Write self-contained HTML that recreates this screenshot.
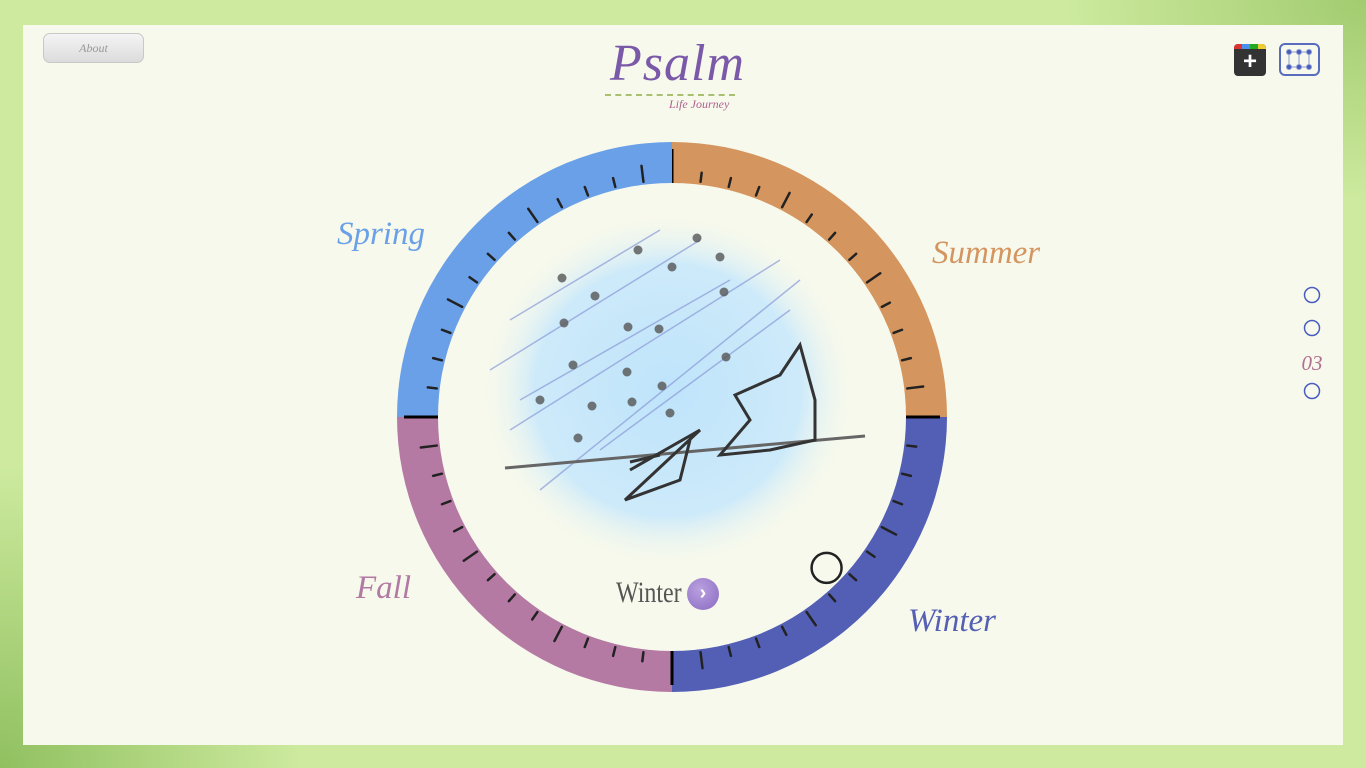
<!DOCTYPE html>
<html><head><meta charset="utf-8"><style>
html,body{margin:0;padding:0;width:1366px;height:768px;overflow:hidden}
body{background:radial-gradient(ellipse 300px 200px at 1366px 0,#a2cc70,transparent),radial-gradient(ellipse 300px 300px at 0 768px,#90c060,transparent),#cdea9e;font-family:"Liberation Sans",sans-serif}
#panel{position:absolute;left:23px;top:25px;width:1320px;height:720px;background:#f7f9ec}
.lbl{position:absolute;font-family:"Liberation Serif",serif;font-style:italic;font-size:33px}
</style></head><body>
<div id="panel"></div>
<div style="position:absolute;left:43px;top:33px;width:99px;height:28px;border:1px solid #c8c8c8;border-radius:7px;background:linear-gradient(#f4f4f4,#dcdcdc);color:#999;font-size:12px;text-align:center;line-height:28px;font-family:'Liberation Serif',serif;font-style:italic">About</div>
<div style="position:absolute;left:610px;top:34px;font-family:'Liberation Serif',serif;font-style:italic;font-size:52px;color:#7a5aa8;letter-spacing:1px">Psalm</div>
<div style="position:absolute;left:605px;top:94px;width:130px;border-top:2px dashed #a8c070"></div>
<div style="position:absolute;left:669px;top:97px;font-family:'Liberation Serif',serif;font-style:italic;font-size:12px;color:#b06090">Life Journey</div>
<div style="position:absolute;left:1234px;top:44px;width:32px;height:32px;border-radius:4px;overflow:hidden;background:#333">
<div style="height:5px;background:linear-gradient(90deg,#d33 25%,#4a8ef0 25% 50%,#2a2 50% 75%,#ec3 75%)"></div>
<div style="color:#fff;font-size:24px;font-weight:bold;text-align:center;line-height:26px">+</div></div>
<div style="position:absolute;left:1279px;top:43px;width:41px;height:33px;border:2px solid #5a6cc0;border-radius:6px;box-sizing:border-box">
<svg width="37" height="29" style="position:absolute;left:0;top:0"><g stroke="#8a98d8" stroke-width="1" fill="#4a5cb8"><rect x="8" y="7" width="20" height="15" fill="none"/><line x1="18" y1="7" x2="18" y2="22"/><circle cx="8" cy="7" r="2.5"/><circle cx="18" cy="7" r="2.5"/><circle cx="28" cy="7" r="2.5"/><circle cx="8" cy="22" r="2.5"/><circle cx="18" cy="22" r="2.5"/><circle cx="28" cy="22" r="2.5"/></g></svg></div>
<svg width="30" height="120" style="position:absolute;left:1297px;top:284px">
<g fill="none" stroke="#4a5cc0" stroke-width="1.5"><circle cx="15" cy="11" r="7.5"/><circle cx="15" cy="44" r="7.5"/><circle cx="15" cy="107" r="7.5"/></g>
<text x="15" y="86" text-anchor="middle" font-family="Liberation Serif" font-style="italic" font-size="21" fill="#b07090">03</text></svg>
<svg id="chart" width="1366" height="768" style="position:absolute;left:0;top:0"></svg>
<div class="lbl" style="left:337px;top:216px;color:#6aa0e8">Spring</div>
<div class="lbl" style="left:932px;top:235px;color:#d49560">Summer</div>
<div class="lbl" style="left:356px;top:570px;color:#b27aa3">Fall</div>
<div class="lbl" style="left:908px;top:603px;color:#5560b5">Winter</div>
<div style="position:absolute;left:616px;top:576px;font-family:'Liberation Serif',serif;font-size:30px;color:#555;transform:scaleX(0.8);transform-origin:left">Winter</div>
<div style="position:absolute;left:687px;top:578px;width:32px;height:32px;border-radius:50%;background:radial-gradient(circle at 40% 35%,#b9a0e0,#8a6ac0);color:#fff;font-weight:bold;font-size:20px;text-align:center;line-height:31px">›</div>
<script>
const seasons=["Summer","Winter","Fall","Spring"];
const seasonColors=["#d4955e","#525fb5","#b57aa4","#6aa0e8"];
const weeksPerSeason=[13,13,13,13];
const majorEvery=[4,4,4,4];
const markerWeek=[19.4];
const NS="http://www.w3.org/2000/svg";
const svg=document.getElementById("chart");
const cx=672,cy=417,R=275,r=234;
function pt(a,rad){return [cx+rad*Math.sin(a),cy-rad*Math.cos(a)];}
const total=weeksPerSeason.reduce((a,b)=>a+b,0);
function ang(w){return w/total*2*Math.PI;}
function mk(t,attrs){const e=document.createElementNS(NS,t);for(const k in attrs)e.setAttribute(k,attrs[k]);svg.appendChild(e);return e;}
const defs=mk("defs",{});
defs.innerHTML='<radialGradient id="sky" cx="50%" cy="50%" r="50%"><stop offset="0%" stop-color="#bfe4fb"/><stop offset="70%" stop-color="#cdeafa"/><stop offset="100%" stop-color="#f7f9ec" stop-opacity="0"/></radialGradient>';
const sky=mk("ellipse",{cx:668,cy:390,rx:190,ry:180,fill:"url(#sky)"});


[[510,320,660,230],[490,370,700,240],[510,430,780,260],[540,490,800,280],[520,400,730,280],[600,450,790,310]].forEach(l=>mk("line",{x1:l[0],y1:l[1],x2:l[2],y2:l[3],stroke:"#8b9ad8","stroke-width":1.5,opacity:0.7}));
[[562,278],[595,296],[638,250],[672,267],[720,257],[564,323],[628,327],[659,329],[573,365],[627,372],[662,386],[540,400],[592,406],[632,402],[670,413],[578,438],[724,292],[697,238],[726,357]].forEach(d=>mk("circle",{cx:d[0],cy:d[1],r:4.5,fill:"#555",opacity:0.8}));
mk("path",{d:"M505 468 Q650 455 865 436",stroke:"#666","stroke-width":3,fill:"none"});
mk("path",{d:"M630 470 L700 430 L625 500 L680 480 L690 440 M660 455 L630 462",stroke:"#333","stroke-width":3,fill:"none"});
mk("path",{d:"M720 455 L750 420 L735 395 L780 375 L800 345 L815 400 L815 440 L770 450 Z",stroke:"#333","stroke-width":3,fill:"none"});
let start=0;
seasons.forEach((s,i)=>{
 const a0=ang(start),a1=ang(start+weeksPerSeason[i]);
 const [x0,y0]=pt(a0,R),[x1,y1]=pt(a1,R),[x2,y2]=pt(a1,r),[x3,y3]=pt(a0,r);
 const p=mk("path",{d:`M${x0} ${y0} A${R} ${R} 0 0 1 ${x1} ${y1} L${x2} ${y2} A${r} ${r} 0 0 0 ${x3} ${y3}Z`,fill:seasonColors[i]});
 
 
 for(let w=1;w<weeksPerSeason[i];w++){
  const a=ang(start+w);const len=(w%majorEvery[i]===0)?16:9;
  const [ax,ay]=pt(a,r+3),[bx,by]=pt(a,r+3+len);
  const t=mk("line",{x1:ax,y1:ay,x2:bx,y2:by,stroke:"#222","stroke-width":2.5,"stroke-linecap":"round"});
  
  
 }
 const [ax,ay]=pt(a0,r),[bx,by]=pt(a0,r+34);
 const b=mk("line",{x1:ax,y1:ay,x2:bx,y2:by,stroke:"#000","stroke-width":3});
 
 
 start+=weeksPerSeason[i];
});
const [mx,my]=pt(ang(markerWeek[0]),216);
const m=mk("circle",{cx:mx,cy:my,r:15,fill:"none",stroke:"#222","stroke-width":2.5});


</script>
</body></html>
